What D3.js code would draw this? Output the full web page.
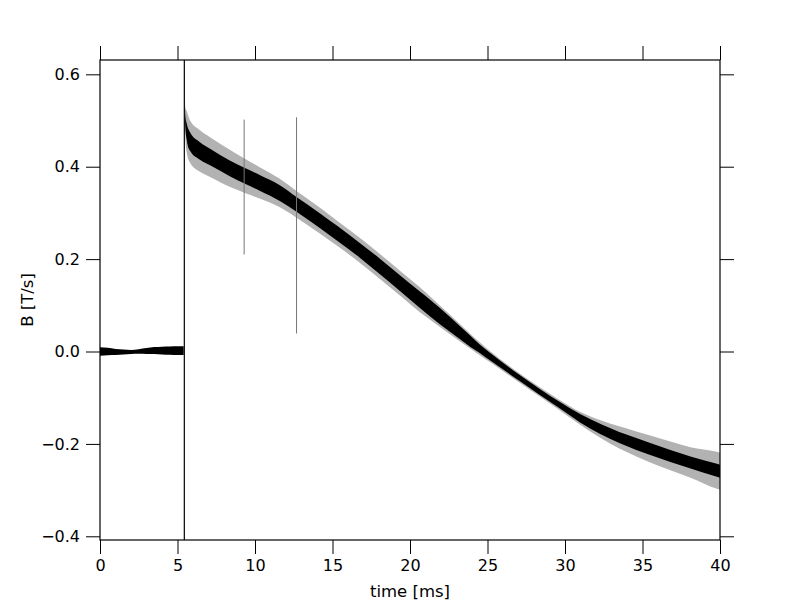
<!DOCTYPE html>
<html>
<head>
<meta charset="utf-8">
<script src="https://cdn.jsdelivr.net/npm/d3@7"></script>
<style>
  body { margin: 0; background: #fff; }
  svg { display: block; }
  text { font-family: "DejaVu Sans", sans-serif; fill: #000; }
</style>
</head>
<body>
<svg id="chart" width="800" height="600"></svg>
<script>
// ---- data ----
// pre-trigger segment (time in ms, B in T/s)
const preTime   = [0, 0.5, 1, 1.5, 2, 2.5, 3, 3.5, 4, 4.5, 5, 5.4];
const preCenter = [0.0, 0.0, -0.001, -0.001, -0.001, 0.0, 0.001, 0.002, 0.002, 0.002, 0.002, 0.002];
const preCore   = [0.009, 0.008, 0.0065, 0.0055, 0.0045, 0.005, 0.0065, 0.0075, 0.0085, 0.009, 0.0095, 0.0095];

// trigger jump (full-range vertical trace)
const jumpTime = 5.44;
const jumpLow = -0.408;
const jumpHigh = 0.631;

// post-trigger decay segment
const postTime   = [5.45, 5.5, 5.6, 5.8, 6.45, 7.1, 8.4, 9.35, 10.3, 11.6, 12.7, 14.2, 15.3, 16.8, 18.06, 19.35, 20.6, 21.3, 22.6, 23.9, 24.5, 25.2, 27.1, 28.4, 29.7, 31.0, 32.3, 33.5, 34.6, 35.5, 36.8, 38.1, 39.8, 40.0];
const postCenter = [0.631, 0.50, 0.475, 0.455, 0.434, 0.421, 0.396, 0.380, 0.365, 0.343, 0.318, 0.283, 0.256, 0.218, 0.184, 0.148, 0.113, 0.094, 0.058, 0.022, 0.006, -0.012, -0.058, -0.088, -0.117, -0.145, -0.168, -0.186, -0.200, -0.211, -0.226, -0.240, -0.257, -0.259];
const postCore   = [0.002, 0.012, 0.018, 0.020, 0.019, 0.018, 0.017, 0.017, 0.017, 0.017, 0.016, 0.016, 0.016, 0.016, 0.017, 0.017, 0.018, 0.018, 0.016, 0.012, 0.009, 0.008, 0.0065, 0.0065, 0.007, 0.009, 0.011, 0.012, 0.013, 0.013, 0.013, 0.013, 0.014, 0.014];
const postSpread = [0.002, 0.030, 0.045, 0.046, 0.045, 0.043, 0.040, 0.037, 0.034, 0.031, 0.029, 0.028, 0.027, 0.027, 0.027, 0.027, 0.027, 0.025, 0.021, 0.016, 0.014, 0.012, 0.010, 0.010, 0.011, 0.014, 0.019, 0.024, 0.027, 0.029, 0.031, 0.033, 0.040, 0.040];

// isolated spikes
const spikeTime = [9.3, 12.68];
const spikeLow  = [0.210, 0.039];
const spikeHigh = [0.502, 0.507];

// axis ticks
const xTicks = [0, 5, 10, 15, 20, 25, 30, 35, 40];
const yTicks = [-0.4, -0.2, 0.0, 0.2, 0.4, 0.6];
const xLabel = "time [ms]";
const yLabel = "B [T/s]";

// ---- layout ----
const W = 800, H = 600;
const m = { left: 100, right: 80, top: 60, bottom: 60 };
const pw = W - m.left - m.right, ph = H - m.top - m.bottom;

const svg = d3.select("#chart");
const x = d3.scaleLinear().domain([0, 40]).range([m.left, m.left + pw]);
const y = d3.scaleLinear().domain([jumpLow, jumpHigh]).range([m.top + ph, m.top]);

svg.append("defs").append("clipPath").attr("id", "clip")
  .append("rect").attr("x", m.left).attr("y", m.top).attr("width", pw).attr("height", ph);

const g = svg.append("g").attr("clip-path", "url(#clip)");

const pre = preTime.map((t, i) => ({ t, c: preCenter[i], w: preCore[i] }));
const post = postTime.map((t, i) => ({ t, c: postCenter[i], w: postCore[i], s: postSpread[i] }));

const curve = d3.curveMonotoneX;

// outer noise haze
g.append("path")
  .datum(post)
  .attr("fill", "#000").attr("fill-opacity", 0.3)
  .attr("d", d3.area().curve(curve).x(d => x(d.t)).y0(d => y(d.c - d.s)).y1(d => y(d.c + d.s)));

// core bands
g.append("path")
  .datum(pre)
  .attr("fill", "#000")
  .attr("d", d3.area().curve(curve).x(d => x(d.t)).y0(d => y(d.c - d.w)).y1(d => y(d.c + d.w)));
g.append("path")
  .datum(post)
  .attr("fill", "#000")
  .attr("d", d3.area().curve(curve).x(d => x(d.t)).y0(d => y(d.c - d.w)).y1(d => y(d.c + d.w)));

// trigger jump
g.append("line")
  .attr("x1", x(jumpTime)).attr("x2", x(jumpTime))
  .attr("y1", y(jumpLow)).attr("y2", y(jumpHigh))
  .attr("stroke", "#000").attr("stroke-width", 1.2);
g.append("line")
  .attr("x1", x(jumpTime)).attr("x2", x(postTime[0]))
  .attr("y1", y(jumpHigh)).attr("y2", y(postCenter[0]))
  .attr("stroke", "#000").attr("stroke-width", 1.2);

// isolated spikes
spikeTime.forEach((t, i) => {
  g.append("line")
    .attr("x1", x(t)).attr("x2", x(t))
    .attr("y1", y(spikeLow[i])).attr("y2", y(spikeHigh[i]))
    .attr("stroke", "#777").attr("stroke-width", 1);
});

// ---- axes ----
const tickLen = 14;
const fmtY = v => d3.format(".1f")(v).replace("-", "\u2212");

const axB = svg.append("g").attr("transform", `translate(0,${m.top + ph})`)
  .call(d3.axisBottom(x).tickValues(xTicks).tickSize(tickLen).tickPadding(6).tickFormat(d3.format("d")));
const axT = svg.append("g").attr("transform", `translate(0,${m.top})`)
  .call(d3.axisTop(x).tickValues(xTicks).tickSize(tickLen).tickFormat(""));
const axL = svg.append("g").attr("transform", `translate(${m.left},0)`)
  .call(d3.axisLeft(y).tickValues(yTicks).tickSize(tickLen).tickPadding(6).tickFormat(fmtY));
const axR = svg.append("g").attr("transform", `translate(${m.left + pw},0)`)
  .call(d3.axisRight(y).tickValues(yTicks).tickSize(tickLen).tickFormat(""));

[axB, axT, axL, axR].forEach(a => {
  a.select(".domain").remove();
  a.selectAll(".tick line").attr("stroke", "#000").attr("stroke-width", 1);
  a.selectAll(".tick text").attr("font-size", "16px").attr("font-family", "DejaVu Sans, sans-serif").attr("fill", "#000");
});

// frame
svg.append("rect")
  .attr("x", m.left).attr("y", m.top).attr("width", pw).attr("height", ph)
  .attr("fill", "none").attr("stroke", "#000").attr("stroke-width", 1.2);

// labels
svg.append("text")
  .attr("x", m.left + pw / 2).attr("y", 597)
  .attr("text-anchor", "middle").attr("font-size", "16.5px")
  .text(xLabel);
svg.append("text")
  .attr("transform", `translate(33,${m.top + ph / 2}) rotate(-90)`)
  .attr("text-anchor", "middle").attr("font-size", "16.5px")
  .text(yLabel);
</script>
</body>
</html>
